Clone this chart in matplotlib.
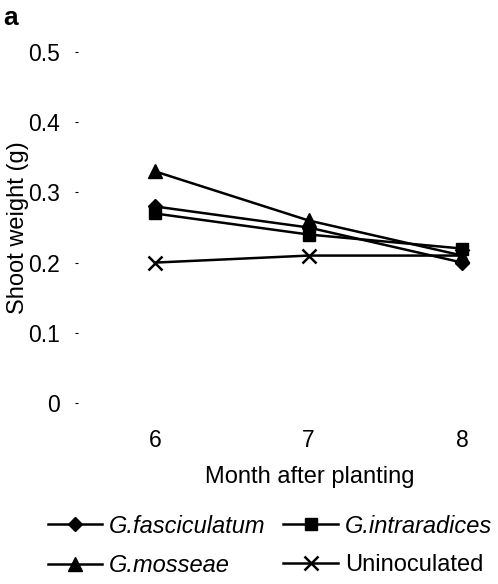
import matplotlib
matplotlib.use("Agg")
import matplotlib.pyplot as plt

months = [6, 7, 8]
fasciculatum = [0.28, 0.25, 0.20]
intraradices = [0.27, 0.24, 0.22]
mosseae = [0.33, 0.26, 0.21]
uninoculated = [0.20, 0.21, 0.21]

yticks = [0, 0.1, 0.2, 0.3, 0.4, 0.5]
ytick_labels = ["0", "0.1", "0.2", "0.3", "0.4", "0.5"]

plt.rcParams["font.family"] = ["Liberation Sans", "DejaVu Sans"]

W, H = 498, 584
fig = plt.figure(figsize=(W / 100, H / 100), dpi=100)
ax = fig.add_axes([78 / W, 1 - 403 / H, 412 / W, 351 / H])

lw = 1.8
h1, = ax.plot(months, fasciculatum, color="black", lw=lw, marker="D", ms=7,
              label="G.fasciculatum")
h2, = ax.plot(months, intraradices, color="black", lw=lw, marker="s", ms=8,
              label="G.intraradices")
h3, = ax.plot(months, mosseae, color="black", lw=lw, marker="^", ms=10,
              label="G.mosseae")
h4, = ax.plot(months, uninoculated, color="black", lw=lw, marker="x", ms=10,
              mew=1.8, label="Uninoculated")

ax.set_xlim(5.5, 8.18)
ax.set_ylim(0, 0.5)
ax.set_xticks(months)
ax.set_xticklabels([str(m) for m in months], fontsize=16.5)
ax.set_yticks(yticks)
ax.set_yticklabels(ytick_labels, fontsize=16.5)
for s in ax.spines.values():
    s.set_visible(False)
ax.tick_params(axis="x", length=0, pad=19)
ax.tick_params(axis="y", length=2, width=0.8, pad=11)

# label sits under the middle category, not the axes centre
ax.set_xlabel("Month after planting", fontsize=17)
ax.xaxis.set_label_coords((310 - 78) / 412, -(466 - 403) / 351)
fig.text(18 / W, 1 - 228 / H, "Shoot weight (g)", rotation=90, fontsize=17,
         ha="center", va="center")
fig.text(3 / W, 1 - 18 / H, "a", fontsize=19, fontweight="bold",
         ha="left", va="center")

leg = fig.legend([h1, h3, h2, h4],
                 ["G.fasciculatum", "G.mosseae", "G.intraradices", "Uninoculated"],
                 ncol=2, frameon=False, loc="center",
                 bbox_to_anchor=(270 / W, 1 - 546 / H),
                 fontsize=17, handlelength=2.3, handletextpad=0.3,
                 columnspacing=0.75, labelspacing=0.7, borderpad=0)
for t in leg.get_texts()[:3]:
    t.set_style("italic")

fig.savefig("out.png", dpi=100)
